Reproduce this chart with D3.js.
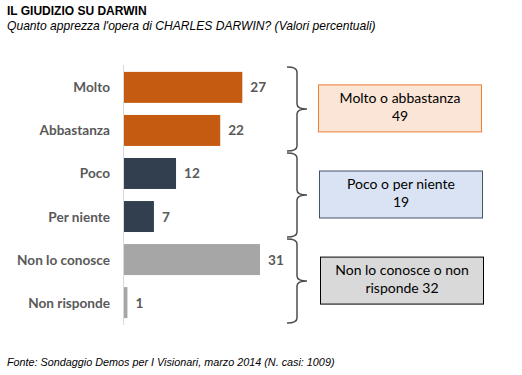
<!DOCTYPE html>
<html>
<head>
<meta charset="utf-8">
<script src="https://cdn.jsdelivr.net/npm/d3@7"></script>
<style>
  body { margin: 0; background: #fff; }
  text { font-family: "Liberation Sans", Arial, sans-serif; }
  .lab { font-family: Lato, "Open Sans", sans-serif; font-weight: bold; font-size: 13.6px; fill: #595959; }
  .box { font-family: Lato, "Open Sans", sans-serif; font-size: 14px; fill: #000; }
</style>
</head>
<body>
<script>
// values
const categories = ['Molto', 'Abbastanza', 'Poco', 'Per niente', 'Non lo conosce', 'Non risponde']
const values = [27, 22, 12, 7, 31, 1]
const groupOf = [0, 0, 1, 1, 2, 2]

const groupLines = [['Molto o abbastanza', '49'], ['Poco o per niente', '19'], ['Non lo conosce o non', 'risponde 32']]
const barColors = ['#c55a11', '#323f4f', '#a6a6a6']
const boxFill = ['#fbe5d6', '#dae3f3', '#d9d9d9']
const boxStroke = ['#ed7d31', '#44546a', '#000000']

const W = 522, H = 375
const svg = d3.select('body').append('svg').attr('width', W).attr('height', H)

// titles
svg.append('text').attr('x', 7).attr('y', 15)
    .style('font-weight', 'bold').style('font-size', '12px')
    .text('IL GIUDIZIO  SU DARWIN')
svg.append('text').attr('x', 7).attr('y', 30)
    .style('font-style', 'italic').style('font-size', '12.1px')
    .text("Quanto apprezza l'opera di CHARLES DARWIN? (Valori percentuali)")
svg.append('text').attr('x', 7).attr('y', 366)
    .style('font-style', 'italic').style('font-size', '10.8px')
    .text('Fonte: Sondaggio Demos per I Visionari, marzo 2014 (N. casi: 1009)')

const x0 = 123
let x = d3.scaleLinear().domain([0, 31]).range([x0, 260])
let y = d3.scaleBand().domain(categories).range([65, 325]).paddingInner(0.28).paddingOuter(0.16)

// axis line
svg.append('line').attr('x1', x0 + 0.5).attr('x2', x0 + 0.5).attr('y1', 65).attr('y2', 325)
    .attr('stroke', '#d9d9d9').attr('stroke-width', 1)

svg.selectAll('rect.bar')
    .data(categories)
    .join('rect')
    .attr('class', 'bar')
    .attr('x', x0 + 1)
    .attr('y', d => y(d))
    .attr('width', (d, i) => x(values[i]) - x0 - 1)
    .attr('height', y.bandwidth())
    .attr('fill', (d, i) => barColors[groupOf[i]])

svg.selectAll('text.cat')
    .data(categories)
    .join('text')
    .attr('class', 'lab')
    .attr('x', 110)
    .attr('y', d => y(d) + y.bandwidth() / 2 + 5)
    .attr('text-anchor', 'end')
    .text(d => d)

svg.selectAll('text.val')
    .data(categories)
    .join('text')
    .attr('class', 'lab')
    .attr('x', (d, i) => x(values[i]) + 8)
    .attr('y', d => y(d) + y.bandwidth() / 2 + 5)
    .text((d, i) => values[i])

// braces and boxes, one per group
for (let g = 0; g < 3; g++) {
    let cats = categories.filter((d, i) => groupOf[i] == g)
    let top = y(cats[0]) - 5
    let bot = y(cats[cats.length - 1]) + y.bandwidth() + 5
    let mid = (top + bot) / 2
    let bx = 297
    svg.append('path')
        .attr('d', `M${bx - 10},${top} Q${bx},${top} ${bx},${top + 5} L${bx},${mid - 5} Q${bx},${mid} ${bx + 10},${mid} Q${bx},${mid} ${bx},${mid + 5} L${bx},${bot - 5} Q${bx},${bot} ${bx - 10},${bot}`)
        .attr('fill', 'none').attr('stroke', '#4d4d4d').attr('stroke-width', 1.5)

    svg.append('rect')
        .attr('x', 318.5 + g).attr('y', mid - 24)
        .attr('width', 163).attr('height', 47)
        .attr('fill', boxFill[g]).attr('stroke', boxStroke[g]).attr('stroke-width', 1)

    svg.selectAll('text.b' + g)
        .data(groupLines[g])
        .join('text')
        .attr('class', 'box')
        .attr('x', 400 + g)
        .attr('y', (d, i) => mid - 6 + i * 18)
        .attr('text-anchor', 'middle')
        .text(d => d)
}
</script>
</body>
</html>
